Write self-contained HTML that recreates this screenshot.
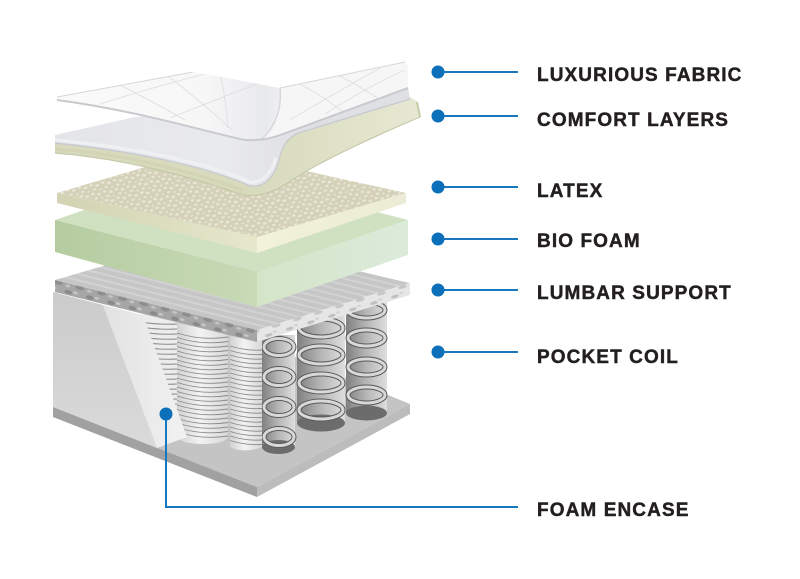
<!DOCTYPE html>
<html><head><meta charset="utf-8"><style>
html,body{margin:0;padding:0;background:#fff;}
svg{display:block;}
</style></head><body>
<svg width="800" height="579" viewBox="0 0 800 579" xmlns="http://www.w3.org/2000/svg">
<defs>
  <pattern id="dots" width="12" height="9" patternUnits="userSpaceOnUse" patternTransform="rotate(-12)">
    <rect width="12" height="9" fill="#d5d1b8"/>
    <ellipse cx="2.5" cy="2" rx="1.8" ry="1.2" fill="#e8e6d6"/>
    <ellipse cx="8.5" cy="3.5" rx="2" ry="1.3" fill="#e8e6d6"/>
    <ellipse cx="5" cy="7" rx="1.7" ry="1.1" fill="#e8e6d6"/>
    <ellipse cx="11" cy="8" rx="1.3" ry="0.9" fill="#e8e6d6"/>
  </pattern>
  <pattern id="stripes" width="6" height="6" patternUnits="userSpaceOnUse" patternTransform="rotate(14)">
    <rect width="6" height="6" fill="#c6c6c6"/>
    <rect y="0" width="6" height="2" fill="#d2d2d2"/>
  </pattern>
  <pattern id="mottleL" width="22" height="12" patternUnits="userSpaceOnUse" patternTransform="rotate(14)">
    <rect width="22" height="12" fill="#a6a6a6"/>
    <ellipse cx="5" cy="3" rx="4" ry="2" fill="#8a8a8a"/>
    <ellipse cx="15" cy="8" rx="4.5" ry="2.2" fill="#8e8e8e"/>
    <ellipse cx="12" cy="2" rx="2.5" ry="1.3" fill="#c8c8c8"/>
    <ellipse cx="3" cy="9" rx="2.5" ry="1.4" fill="#c4c4c4"/>
  </pattern>
  <pattern id="mottleR" width="22" height="12" patternUnits="userSpaceOnUse" patternTransform="rotate(-17)">
    <rect width="22" height="12" fill="#e6e6e6"/>
    <ellipse cx="5" cy="3" rx="4" ry="1.6" fill="#c0c0c0"/>
    <ellipse cx="15" cy="8" rx="4.5" ry="1.8" fill="#c6c6c6"/>
    <ellipse cx="12" cy="1.5" rx="2" ry="1" fill="#cfcfcf"/>
  </pattern>
  <linearGradient id="springBg" x1="0" x2="1" y1="0" y2="0">
    <stop offset="0" stop-color="#808080"/><stop offset="0.5" stop-color="#b6b6b6"/><stop offset="1" stop-color="#dedede"/>
  </linearGradient>
  <linearGradient id="covBg" x1="0" x2="1" y1="0" y2="0">
    <stop offset="0" stop-color="#d2d2d2"/><stop offset="0.45" stop-color="#f3f3f3"/><stop offset="1" stop-color="#d8d8d8"/>
  </linearGradient>
  <linearGradient id="wallG" x1="0" x2="0" y1="0" y2="1">
    <stop offset="0" stop-color="#cbcbcb"/><stop offset="1" stop-color="#dadada"/>
  </linearGradient>
  <linearGradient id="stripG" x1="0" x2="1" y1="0" y2="0">
    <stop offset="0" stop-color="#e2e2e2"/><stop offset="1" stop-color="#f2f2f2"/>
  </linearGradient>
  <linearGradient id="greenL" x1="0" x2="1" y1="0" y2="0">
    <stop offset="0" stop-color="#b5cca0"/><stop offset="1" stop-color="#c8dab6"/>
  </linearGradient>
  <linearGradient id="greenR" x1="0" x2="1" y1="0" y2="0">
    <stop offset="0" stop-color="#d4e5c8"/><stop offset="1" stop-color="#dceadb"/>
  </linearGradient>
  <linearGradient id="latexL" x1="0" x2="1" y1="0" y2="0">
    <stop offset="0" stop-color="#d2d3b3"/><stop offset="1" stop-color="#e6e7cb"/>
  </linearGradient>
  <linearGradient id="latexR" x1="0" x2="1" y1="0" y2="0">
    <stop offset="0" stop-color="#f2f2da"/><stop offset="1" stop-color="#ececd6"/>
  </linearGradient>
  <linearGradient id="sheetG" x1="57" x2="282" y1="0" y2="0" gradientUnits="userSpaceOnUse">
    <stop offset="0" stop-color="#fafafa"/><stop offset="0.65" stop-color="#f7f7f8"/><stop offset="0.93" stop-color="#e8e9eb"/><stop offset="1" stop-color="#f0f0f2"/>
  </linearGradient>
  <linearGradient id="comfW" x1="55" x2="300" y1="0" y2="0" gradientUnits="userSpaceOnUse">
    <stop offset="0" stop-color="#e4e5e9"/><stop offset="0.7" stop-color="#e9eaed"/><stop offset="1" stop-color="#dfe0e4"/>
  </linearGradient>
  <linearGradient id="creamG" x1="250" x2="420" y1="0" y2="0" gradientUnits="userSpaceOnUse">
    <stop offset="0" stop-color="#d8dabd"/><stop offset="1" stop-color="#e6e8d2"/>
  </linearGradient>
  <clipPath id="sheetClip"><path d="M57,97 L193,72 C230,78 262,85 280,88 L405,62 L408,66 L408,88 L283,134 C270,140 258,142 245,141 C210,134 140,112 57,101 Z"/></clipPath>
</defs>

<!-- BASE -->
<polygon points="53,407 230,330 410,404 257,487" fill="#c4c4c4"/>
<polygon points="53,407 257,487 257,497 53,417" fill="#a1a1a1"/>
<polygon points="257,487 410,404 410,414 257,497" fill="#bcbcbc"/>

<!-- SPRING COLUMN D -->
<rect x="346" y="298" width="41" height="115" fill="url(#springBg)"/>
<ellipse cx="366.5" cy="413" rx="20.5" ry="7.5" fill="#6c6c6c"/>
<g fill="none">
  <g stroke="#5a5a5a" stroke-width="5">
    <ellipse cx="366.5" cy="310" rx="18.5" ry="8"/><ellipse cx="366.5" cy="338" rx="18.5" ry="8"/>
    <ellipse cx="366.5" cy="367" rx="18.5" ry="8"/><ellipse cx="366.5" cy="395" rx="18.5" ry="8"/>
  </g>
  <g stroke="#d8d8d8" stroke-width="3">
    <ellipse cx="366.5" cy="310" rx="18.5" ry="8"/><ellipse cx="366.5" cy="338" rx="18.5" ry="8"/>
    <ellipse cx="366.5" cy="367" rx="18.5" ry="8"/><ellipse cx="366.5" cy="395" rx="18.5" ry="8"/>
  </g>
</g>

<!-- SPRING COLUMN C -->
<rect x="297" y="315" width="48" height="108" fill="url(#springBg)"/>
<ellipse cx="321" cy="423" rx="24" ry="8.5" fill="#6c6c6c"/>
<g fill="none">
  <g stroke="#5a5a5a" stroke-width="5">
    <ellipse cx="321" cy="328" rx="22" ry="9"/><ellipse cx="321" cy="355" rx="22" ry="9"/>
    <ellipse cx="321" cy="383" rx="22" ry="9"/><ellipse cx="321" cy="410" rx="22" ry="9"/>
  </g>
  <g stroke="#d8d8d8" stroke-width="3">
    <ellipse cx="321" cy="328" rx="22" ry="9"/><ellipse cx="321" cy="355" rx="22" ry="9"/>
    <ellipse cx="321" cy="383" rx="22" ry="9"/><ellipse cx="321" cy="410" rx="22" ry="9"/>
  </g>
</g>

<!-- SPRING COLUMN B (exposed) -->
<rect x="262" y="335" width="33" height="112" fill="url(#springBg)"/>
<ellipse cx="278.5" cy="447" rx="16.5" ry="7" fill="#6c6c6c"/>
<g fill="none">
  <g stroke="#5a5a5a" stroke-width="5">
    <ellipse cx="279" cy="347" rx="15" ry="8.5"/><ellipse cx="279" cy="377" rx="15" ry="8.5"/>
    <ellipse cx="279" cy="407" rx="15" ry="8.5"/><ellipse cx="279" cy="437" rx="15" ry="8.5"/>
  </g>
  <g stroke="#d8d8d8" stroke-width="3">
    <ellipse cx="279" cy="347" rx="15" ry="8.5"/><ellipse cx="279" cy="377" rx="15" ry="8.5"/>
    <ellipse cx="279" cy="407" rx="15" ry="8.5"/><ellipse cx="279" cy="437" rx="15" ry="8.5"/>
  </g>
</g>

<!-- COVERED COLUMN 1 (back, partial) -->
<path d="M143,312 L177,318 L177,430 C165,433 152,432 143,428 Z" fill="#ececec"/>
<g stroke="#8c8c8c" stroke-width="0.9" fill="none">
  <path d="M140,322 Q160,325 177,324"/><path d="M140,327 Q160,330 177,329"/><path d="M140,332 Q160,335 177,334"/>
  <path d="M140,337 Q160,340 177,339"/><path d="M140,342 Q160,345 177,344"/><path d="M140,347 Q160,350 177,349"/>
  <path d="M140,352 Q160,355 177,354"/><path d="M140,357 Q160,360 177,359"/><path d="M140,362 Q160,365 177,364"/>
  <path d="M140,367 Q160,370 177,369"/><path d="M140,372 Q160,375 177,374"/><path d="M140,377 Q160,380 177,379"/>
  <path d="M140,382 Q160,385 177,384"/><path d="M140,387 Q160,390 177,389"/><path d="M140,392 Q160,395 177,394"/>
  <path d="M140,397 Q160,400 177,399"/><path d="M140,402 Q160,405 177,404"/><path d="M140,407 Q160,410 177,409"/>
  <path d="M140,412 Q160,415 177,414"/><path d="M140,417 Q160,420 177,419"/><path d="M140,422 Q160,425 177,424"/>
</g>

<!-- COVERED COLUMN 2 -->
<path d="M177,320 L228,330 L228,437 A25.5,7 0 0 1 177,437 Z" fill="url(#covBg)"/>
<g stroke="#8a8a8a" stroke-width="0.9" fill="none">
  <path d="M177,333 Q202,341 228,337"/><path d="M177,337.5 Q202,345.5 228,341.5"/><path d="M177,342 Q202,350 228,346"/>
  <path d="M177,346.5 Q202,354.5 228,350.5"/><path d="M177,351 Q202,359 228,355"/><path d="M177,355.5 Q202,363.5 228,359.5"/>
  <path d="M177,360 Q202,368 228,364"/><path d="M177,364.5 Q202,372.5 228,368.5"/><path d="M177,369 Q202,377 228,373"/>
  <path d="M177,373.5 Q202,381.5 228,377.5"/><path d="M177,378 Q202,386 228,382"/><path d="M177,382.5 Q202,390.5 228,386.5"/>
  <path d="M177,387 Q202,395 228,391"/><path d="M177,391.5 Q202,399.5 228,395.5"/><path d="M177,396 Q202,404 228,400"/>
  <path d="M177,400.5 Q202,408.5 228,404.5"/><path d="M177,405 Q202,413 228,409"/><path d="M177,409.5 Q202,417.5 228,413.5"/>
  <path d="M177,414 Q202,422 228,418"/><path d="M177,418.5 Q202,426.5 228,422.5"/><path d="M177,423 Q202,431 228,427"/>
  <path d="M177,427.5 Q202,435.5 228,431.5"/><path d="M177,432 Q202,440 228,436"/>
</g>

<!-- COVERED COLUMN A (front-left half) -->
<path d="M230,334 L262,340 L262,447 C250,452 238,451 230,447 Z" fill="url(#covBg)"/>
<g stroke="#8a8a8a" stroke-width="0.9" fill="none">
  <path d="M230,346 Q246,351 262,350"/><path d="M230,350.5 Q246,355.5 262,354.5"/><path d="M230,355 Q246,360 262,359"/>
  <path d="M230,359.5 Q246,364.5 262,363.5"/><path d="M230,364 Q246,369 262,368"/><path d="M230,368.5 Q246,373.5 262,372.5"/>
  <path d="M230,373 Q246,378 262,377"/><path d="M230,377.5 Q246,382.5 262,381.5"/><path d="M230,382 Q246,387 262,386"/>
  <path d="M230,386.5 Q246,391.5 262,390.5"/><path d="M230,391 Q246,396 262,395"/><path d="M230,395.5 Q246,400.5 262,399.5"/>
  <path d="M230,400 Q246,405 262,404"/><path d="M230,404.5 Q246,409.5 262,408.5"/><path d="M230,409 Q246,414 262,413"/>
  <path d="M230,413.5 Q246,418.5 262,417.5"/><path d="M230,418 Q246,423 262,422"/><path d="M230,422.5 Q246,427.5 262,426.5"/>
  <path d="M230,427 Q246,432 262,431"/><path d="M230,431.5 Q246,436.5 262,435.5"/><path d="M230,436 Q246,441 262,440"/>
  <path d="M230,440.5 Q246,445.5 262,444.5"/>
</g>

<!-- FOAM ENCASE WALL -->
<polygon points="53,292 103,305 157,448 53,407" fill="url(#wallG)"/>
<polygon points="103,305 143,315 187,437 157,448" fill="url(#stripG)"/>

<!-- LUMBAR SUPPORT -->
<polygon points="55,280 206,236 410,283 257,330" fill="url(#stripes)"/>
<polygon points="55,280 257,330 257,342 55,292" fill="url(#mottleL)"/>
<polygon points="257,330 410,283 410,295 257,342" fill="url(#mottleR)"/>

<!-- BIO FOAM -->
<polygon points="55,220 206,168 408,220 257,272" fill="#cfe1c1"/>
<polygon points="55,220 257,272 257,307 55,252" fill="url(#greenL)"/>
<polygon points="257,272 408,220 408,255 257,307" fill="url(#greenR)"/>

<!-- LATEX -->
<polygon points="57,193 206,149 406,193 257,237" fill="url(#dots)"/>
<polygon points="57,193 257,237 257,253 57,203" fill="url(#latexL)"/>
<polygon points="257,237 406,193 406,203 257,253" fill="url(#latexR)"/>

<!-- CREAM COMFORT LAYER -->
<path d="M55,143 L410,97 L418,102 L420,117 C370,138 320,162 295,178 C278,190 262,198 243,195 C190,176 120,158 55,153 Z" fill="url(#creamG)"/>
<path d="M55,149 C120,153 190,171 243,190" stroke="#d2d4b5" stroke-width="3" fill="none"/>
<path d="M55,153 C120,158 190,176 243,195 C262,198 278,190 295,178 C320,162 370,138 420,117" stroke="#c6c8aa" stroke-width="1.2" fill="none"/>
<path d="M417,102 L420,117" stroke="#c8caa8" stroke-width="2"/>

<!-- WHITE COMFORT LAYER -->
<path d="M55,135 L135,117 L300,98 L408,87 L410,99 L305,131 C290,134 282,145 279,160 C275,176 265,188 250,186 C215,170 150,153 55,143 Z" fill="url(#comfW)"/>
<path d="M55,140 C150,149 215,166 250,182 C262,184 272,172 276,158" stroke="#eff0f2" stroke-width="3" fill="none"/>
<path d="M55,143 C150,153 215,170 250,186 C265,188 275,176 279,160 C282,145 290,134 305,131 L410,99" stroke="#c8cacf" stroke-width="1.4" fill="none"/>

<!-- TOP FABRIC SHEET -->
<path d="M57,97 L193,72 C230,78 262,85 280,88 L405,62 L408,66 L408,88 L283,134 C270,140 258,142 245,141 C210,134 140,112 57,101 Z" fill="url(#sheetG)"/>
<path d="M280,88 L405,62 L408,66 L408,88 L283,134 C272,139 266,139 262,139 C276,126 282,108 280,88 Z" fill="#f6f6f7"/>
<g clip-path="url(#sheetClip)" stroke="#dcdde1" stroke-width="0.8" fill="none">
  <path d="M110,80 Q150,100 185,120"/><path d="M160,70 Q200,100 232,130"/>
  <path d="M100,104 Q150,88 205,74"/><path d="M170,118 Q215,100 262,82"/>
  <path d="M220,72 Q226,100 228,128"/>
  <path d="M300,84 Q330,100 350,118"/><path d="M340,76 Q370,92 392,108"/>
  <path d="M290,120 Q330,96 380,68"/><path d="M325,114 Q365,88 405,70"/>
</g>
<path d="M280,88 C282,108 276,126 262,139" stroke="#d6d7db" stroke-width="1.4" fill="none"/>
<path d="M57,100 C140,111 210,133 245,140 C258,141 270,139 283,134 L408,88" stroke="#c9cace" stroke-width="2" fill="none"/>
<path d="M57,97 L193,72 M280,88 L405,62" stroke="#d6d7db" stroke-width="1" fill="none"/>

<!-- CONNECTORS -->
<g stroke="#1a76bd" stroke-width="2" fill="none">
  <line x1="438" y1="72" x2="518" y2="72"/>
  <line x1="438" y1="116" x2="518" y2="116"/>
  <line x1="438" y1="187" x2="518" y2="187"/>
  <line x1="438" y1="239" x2="518" y2="239"/>
  <line x1="438" y1="290" x2="518" y2="290"/>
  <line x1="438" y1="352" x2="518" y2="352"/>
  <polyline points="166,414 166,507 518,507"/>
</g>
<g fill="#0b6fba">
  <circle cx="438" cy="72" r="6.5"/>
  <circle cx="438" cy="116" r="6.5"/>
  <circle cx="438" cy="187" r="6.5"/>
  <circle cx="438" cy="239" r="6.5"/>
  <circle cx="438" cy="290" r="6.5"/>
  <circle cx="438" cy="352" r="6.5"/>
  <circle cx="166" cy="414" r="6.5"/>
</g>

<!-- LABELS -->
<g font-family="'Liberation Sans', Arial, sans-serif" font-weight="bold" font-size="19" letter-spacing="1.1" fill="#231f20" stroke="#231f20" stroke-width="0.45">
  <text x="537" y="81">LUXURIOUS FABRIC</text>
  <text x="537" y="126">COMFORT LAYERS</text>
  <text x="537" y="197">LATEX</text>
  <text x="537" y="247">BIO FOAM</text>
  <text x="537" y="299">LUMBAR SUPPORT</text>
  <text x="537" y="363">POCKET COIL</text>
  <text x="537" y="516">FOAM ENCASE</text>
</g>
</svg>
</body></html>
